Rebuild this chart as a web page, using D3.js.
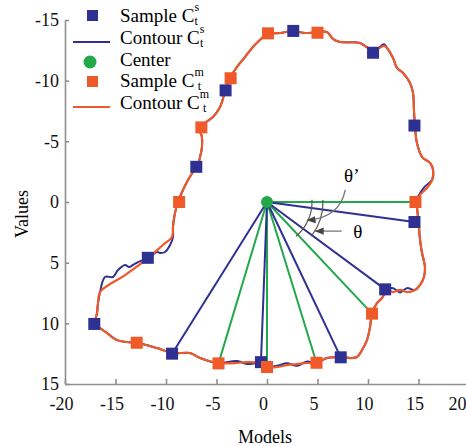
<!DOCTYPE html>
<html>
<head>
<meta charset="utf-8">
<script src="https://cdn.jsdelivr.net/npm/d3@7"></script>
<style>
  body { margin: 0; background: #fff; }
  svg { display: block; }
  .axis path, .axis line { stroke: #8f8f8f; stroke-width: 1.6; }
</style>
</head>
<body>
<svg width="466" height="446" font-family="Liberation Serif, Times New Roman, serif"></svg>
<script>
// axis ticks
var xTicks = [-20, -15, -10, -5, 0, 5, 10, 15, 20];
var yTicks = [-15, -10, -5, 0, 5, 10, 15];

var center = [0, 0];

// sampled points on the two contours
var blueSamples = [
  [2.6, -14.1], [10.5, -12.3], [14.6, -6.3], [14.6, 1.65], [11.7, 7.2],
  [7.3, 12.8], [-0.6, 13.2], [-9.4, 12.5], [-17.1, 10.05], [-11.8, 4.6],
  [-7.0, -2.9], [-4.1, -9.2]
];
var orangeSamples = [
  [0.1, -13.9], [5.0, -13.95], [-3.6, -10.2], [-6.5, -6.15], [-8.7, 0.0],
  [14.7, 0.0], [10.4, 9.2], [4.9, 13.25], [0.0, 13.6], [-4.8, 13.3],
  [-12.9, 11.6]
];
// which samples are joined to the center
var blueSpokes = [3, 4, 5, 6, 7];
var orangeSpokes = [5, 6, 7, 8, 9];

var orangeContour = [
  [0, -13.93], [1.29, -13.93], [2.57, -14.1], [3.76, -13.93], [5.05, -14.01],
  [5.94, -14.01], [6.53, -13.44], [7.23, -13.19], [9.21, -13.11], [10.0, -12.7],
  [10.89, -12.61], [11.58, -12.86], [11.88, -12.7], [12.48, -11.87], [12.87, -11.05],
  [13.47, -10.63], [14.16, -9.81], [14.46, -8.99], [14.55, -7.58], [14.65, -6.18],
  [14.85, -4.86], [15.35, -3.71], [16.14, -3.22], [16.44, -2.64], [16.34, -1.81],
  [15.84, -1.15], [15.15, -0.58], [14.85, 0], [14.95, 1.24], [15.05, 2.06],
  [15.15, 3.13], [15.35, 4.2], [15.64, 5.36], [15.54, 6.18], [15.15, 6.84],
  [14.65, 7.25], [13.86, 7.42], [13.17, 7.25], [12.48, 7.42], [11.88, 7.25],
  [11.39, 7.91], [10.89, 8.33], [10.4, 9.15], [10.2, 10.3], [9.9, 11.38],
  [9.41, 12.2], [8.91, 12.78], [8.22, 12.86], [7.52, 12.78], [6.93, 12.78],
  [5.94, 12.86], [4.85, 13.27], [3.96, 13.27], [2.97, 13.36], [1.98, 13.44],
  [0.99, 13.6], [0, 13.6], [-0.69, 13.27], [-1.98, 13.19], [-2.97, 13.27],
  [-4.85, 13.27], [-6.63, 12.86], [-7.62, 12.45], [-9.31, 12.45], [-10.89, 12.04],
  [-12.77, 11.62], [-13.86, 11.54], [-14.85, 11.38], [-15.84, 10.8], [-16.53, 10.39],
  [-17.03, 10.06], [-16.83, 9.15], [-16.73, 8.33], [-16.53, 7.42], [-14.06, 6.02],
  [-11.78, 4.62], [-10.3, 3.54], [-9.41, 2.89], [-9.31, 2.06], [-9.11, 0.91],
  [-8.81, 0], [-8.32, -0.99], [-7.82, -1.81], [-7.33, -2.47], [-6.93, -2.89],
  [-6.63, -3.71], [-6.44, -4.53], [-6.44, -5.36], [-6.63, -5.94], [-6.14, -6.51],
  [-5.35, -7.01], [-4.65, -7.83], [-4.16, -9.07], [-3.66, -10.22], [-2.97, -11.13],
  [-2.18, -11.95], [-1.39, -12.78], [-0.5, -13.52], [0, -13.93]
];
var blueContour = [
  [0, -13.93], [1.29, -13.93], [2.57, -14.1], [3.76, -13.93], [5.05, -14.01],
  [5.94, -14.01], [6.53, -13.44], [7.23, -13.19], [9.21, -13.11], [10.0, -12.7],
  [10.89, -12.61], [11.58, -13.0], [11.88, -12.7], [12.48, -11.87], [12.87, -11.05],
  [13.47, -10.63], [14.16, -9.81], [14.46, -8.99], [14.55, -7.58], [14.65, -6.18],
  [14.85, -4.86], [15.35, -3.71], [16.14, -3.22], [16.44, -2.64], [16.34, -1.81],
  [15.6, -1.25], [15.0, -0.5], [14.85, 0], [14.95, 1.24], [15.05, 2.06],
  [15.15, 3.13], [15.35, 4.2], [15.64, 5.36], [15.54, 6.18], [15.15, 6.84],
  [14.65, 7.25], [13.86, 7.1], [13.17, 7.45], [12.48, 7.1], [11.88, 7.25],
  [11.39, 7.91], [10.89, 8.33], [10.4, 9.15], [10.2, 10.3], [9.9, 11.38],
  [9.41, 12.2], [8.91, 12.78], [8.22, 12.86], [7.52, 12.78], [6.93, 12.78],
  [5.94, 12.86], [4.85, 13.27], [3.96, 13.15], [2.97, 13.5], [1.98, 13.3],
  [0.99, 13.5], [0, 13.6], [-0.69, 13.27], [-1.98, 13.35], [-2.97, 13.1],
  [-4.85, 13.27], [-6.63, 12.86], [-7.62, 12.45], [-9.31, 12.45], [-10.89, 12.04],
  [-12.77, 11.62], [-13.86, 11.54], [-14.85, 11.38], [-15.84, 10.8], [-16.53, 10.39],
  [-17.03, 10.06], [-16.83, 9.15], [-16.73, 8.33], [-16.53, 7.42], [-16.04, 6.18],
  [-15.25, 6.18], [-14.75, 5.61], [-14.06, 5.19], [-13.66, 5.36], [-13.27, 5.19],
  [-12.77, 4.95], [-11.78, 4.62], [-10.89, 4.12], [-10.59, 4.2], [-10.1, 4.12],
  [-9.6, 3.54], [-9.31, 2.89], [-9.31, 2.06], [-9.11, 0.91],
  [-8.81, 0], [-8.32, -0.99], [-7.82, -1.81], [-7.33, -2.47], [-6.93, -2.89],
  [-6.63, -3.71], [-6.44, -4.53], [-6.44, -5.36], [-6.63, -5.94], [-6.14, -6.51],
  [-5.35, -7.01], [-4.65, -7.83], [-4.16, -9.07], [-3.66, -10.22], [-2.97, -11.13],
  [-2.18, -11.95], [-1.39, -12.78], [-0.5, -13.52], [0, -13.93]
];

// angle annotations (label positions in data units)
var thetaLabels = [
  { text: "θ’", at: [8.4, -2.2] },
  { text: "θ", at: [9.0, 2.45] }
];

var blue = "#2e3192", orange = "#ef5a28", green = "#22a84a";
var serif = "Liberation Serif, Times New Roman, serif";

var svg = d3.select("svg");

var x = d3.scaleLinear().domain([-20, 20]).range([65, 469]);
var y = d3.scaleLinear().domain([-15, 15]).range([20, 384]);

var xAxis = svg.append("g")
  .attr("class", "axis")
  .attr("transform", "translate(0,384)")
  .call(d3.axisBottom(x).tickValues(xTicks).tickFormat(d => String(d))
    .tickSizeInner(-5).tickSizeOuter(0).tickPadding(13))
  .attr("font-family", serif).attr("font-size", 18);
xAxis.selectAll("text").attr("fill", "#111").attr("dx", "-4");
// last label would run off the right edge
xAxis.selectAll("text").filter(d => d === 20).attr("text-anchor", "end").attr("dx", "-3");

svg.append("g")
  .attr("class", "axis")
  .attr("transform", "translate(65,0)")
  .call(d3.axisLeft(y).tickValues(yTicks).tickFormat(d => String(d))
    .tickSizeInner(-4).tickSizeOuter(0).tickPadding(6))
  .attr("font-family", serif).attr("font-size", 18)
  .selectAll("text").attr("fill", "#111");

svg.append("text")
  .attr("x", 265).attr("y", 443)
  .attr("text-anchor", "middle")
  .attr("font-family", serif).attr("font-size", 18)
  .text("Models");

svg.append("text")
  .attr("transform", "translate(28,214) rotate(-90)")
  .attr("text-anchor", "middle")
  .attr("font-family", serif).attr("font-size", 18)
  .text("Values");

// spokes
var c = [x(center[0]), y(center[1])];
svg.selectAll("line.spoke-o")
  .data(orangeSpokes.map(i => orangeSamples[i]))
  .enter().append("line")
    .attr("class", "spoke-o")
    .attr("x1", c[0]).attr("y1", c[1])
    .attr("x2", d => x(d[0])).attr("y2", d => y(d[1]))
    .style("stroke", green).style("stroke-width", 2);

svg.selectAll("line.spoke-b")
  .data(blueSpokes.map(i => blueSamples[i]))
  .enter().append("line")
    .attr("class", "spoke-b")
    .attr("x1", c[0]).attr("y1", c[1])
    .attr("x2", d => x(d[0])).attr("y2", d => y(d[1]))
    .style("stroke", blue).style("stroke-width", 2);

// contours
var line = d3.line().x(d => x(d[0])).y(d => y(d[1])).curve(d3.curveCatmullRom);

svg.append("path")
  .datum(blueContour)
  .attr("d", line)
  .style("fill", "none").style("stroke", blue).style("stroke-width", 2);

svg.append("path")
  .datum(orangeContour)
  .attr("d", line)
  .style("fill", "none").style("stroke", orange).style("stroke-width", 2.2);

// angle arcs
var ang = p => Math.atan2(y(p[1]) - c[1], x(p[0]) - c[0]);
var arcs = [
  { r: 45, a0: ang(orangeSamples[5]) - 0.05, a1: ang(orangeSamples[6]) + 0.05 },
  { r: 56, a0: ang(blueSamples[3]) - 0.17, a1: ang(blueSamples[4]) + 0.02 }
];
var arcGen = d3.arc()
  .innerRadius(d => d.r).outerRadius(d => d.r)
  .startAngle(d => Math.PI / 2 + d.a0).endAngle(d => Math.PI / 2 + d.a1);

svg.selectAll("path.arc")
  .data(arcs)
  .enter().append("path")
    .attr("class", "arc")
    .attr("transform", "translate(" + c + ")")
    .attr("d", arcGen)
    .style("fill", "none").style("stroke", "#555").style("stroke-width", 1.2);

svg.append("defs").append("marker")
  .attr("id", "ah")
  .attr("viewBox", "0 0 10 10").attr("refX", 9).attr("refY", 5)
  .attr("markerWidth", 7).attr("markerHeight", 7)
  .attr("orient", "auto")
  .append("path").attr("d", "M0,1L10,5L0,9Z").style("fill", "#444");

// pointer from θ' (curved) and θ (straight)
svg.append("path")
  .attr("d", "M" + x(7.75) + "," + y(-1.0) + "Q" + x(7.2) + "," + y(1.3) + " " + x(4.0) + "," + y(1.5))
  .style("fill", "none").style("stroke", "#777").style("stroke-width", 1.3)
  .attr("marker-end", "url(#ah)");

svg.append("line")
  .attr("x1", x(7.4)).attr("y1", y(2.4))
  .attr("x2", x(4.8)).attr("y2", y(2.4))
  .style("stroke", "#777").style("stroke-width", 1.3)
  .attr("marker-end", "url(#ah)");

svg.selectAll("text.theta")
  .data(thetaLabels)
  .enter().append("text")
    .attr("class", "theta")
    .attr("x", d => x(d.at[0])).attr("y", d => y(d.at[1]))
    .attr("dy", "0.35em")
    .attr("text-anchor", "middle")
    .attr("font-family", serif).attr("font-size", 19)
    .text(d => d.text);

// sample squares
var sq = 12;
svg.selectAll("rect.bs")
  .data(blueSamples)
  .enter().append("rect")
    .attr("class", "bs")
    .attr("x", d => x(d[0]) - sq / 2).attr("y", d => y(d[1]) - sq / 2)
    .attr("width", sq).attr("height", sq)
    .style("fill", blue);

svg.selectAll("rect.os")
  .data(orangeSamples)
  .enter().append("rect")
    .attr("class", "os")
    .attr("x", d => x(d[0]) - sq / 2).attr("y", d => y(d[1]) - sq / 2)
    .attr("width", sq).attr("height", sq)
    .style("fill", orange);

svg.append("circle")
  .attr("cx", c[0]).attr("cy", c[1]).attr("r", 6)
  .style("fill", green);

// legend
var legend = svg.append("g").attr("font-family", serif).attr("font-size", 19);
var rows = [16, 38, 60, 81, 103];

legend.append("rect").attr("x", 87).attr("y", rows[0] - 6).attr("width", 11).attr("height", 11).style("fill", blue);
legend.append("line").attr("x1", 73).attr("x2", 110).attr("y1", rows[1] + 4).attr("y2", rows[1] + 4)
  .style("stroke", blue).style("stroke-width", 2.2);
legend.append("circle").attr("cx", 90).attr("cy", rows[2] + 2).attr("r", 6.5).style("fill", green);
legend.append("rect").attr("x", 87).attr("y", rows[3] - 5).attr("width", 11).attr("height", 11).style("fill", orange);
legend.append("line").attr("x1", 73).attr("x2", 110).attr("y1", rows[4] + 4).attr("y2", rows[4] + 4)
  .style("stroke", orange).style("stroke-width", 2.2);

function labelC(t, y0, sup, supW) {
  var tx = legend.append("text").attr("x", 120).attr("y", y0);
  tx.append("tspan").text(t);
  tx.append("tspan").attr("dy", -11).attr("font-size", 12).text(sup);
  tx.append("tspan").attr("dx", supW).attr("dy", 14).attr("font-size", 12).text("t");
}
labelC("Sample C", rows[0] + 6, "s", -4.5);
labelC("Contour C", rows[1] + 6, "s", -4.5);
legend.append("text").attr("x", 120).attr("y", rows[2] + 6).text("Center");
labelC("Sample C", rows[3] + 6, "m", -6);
labelC("Contour C", rows[4] + 6, "m", -6);
</script>
</body>
</html>
